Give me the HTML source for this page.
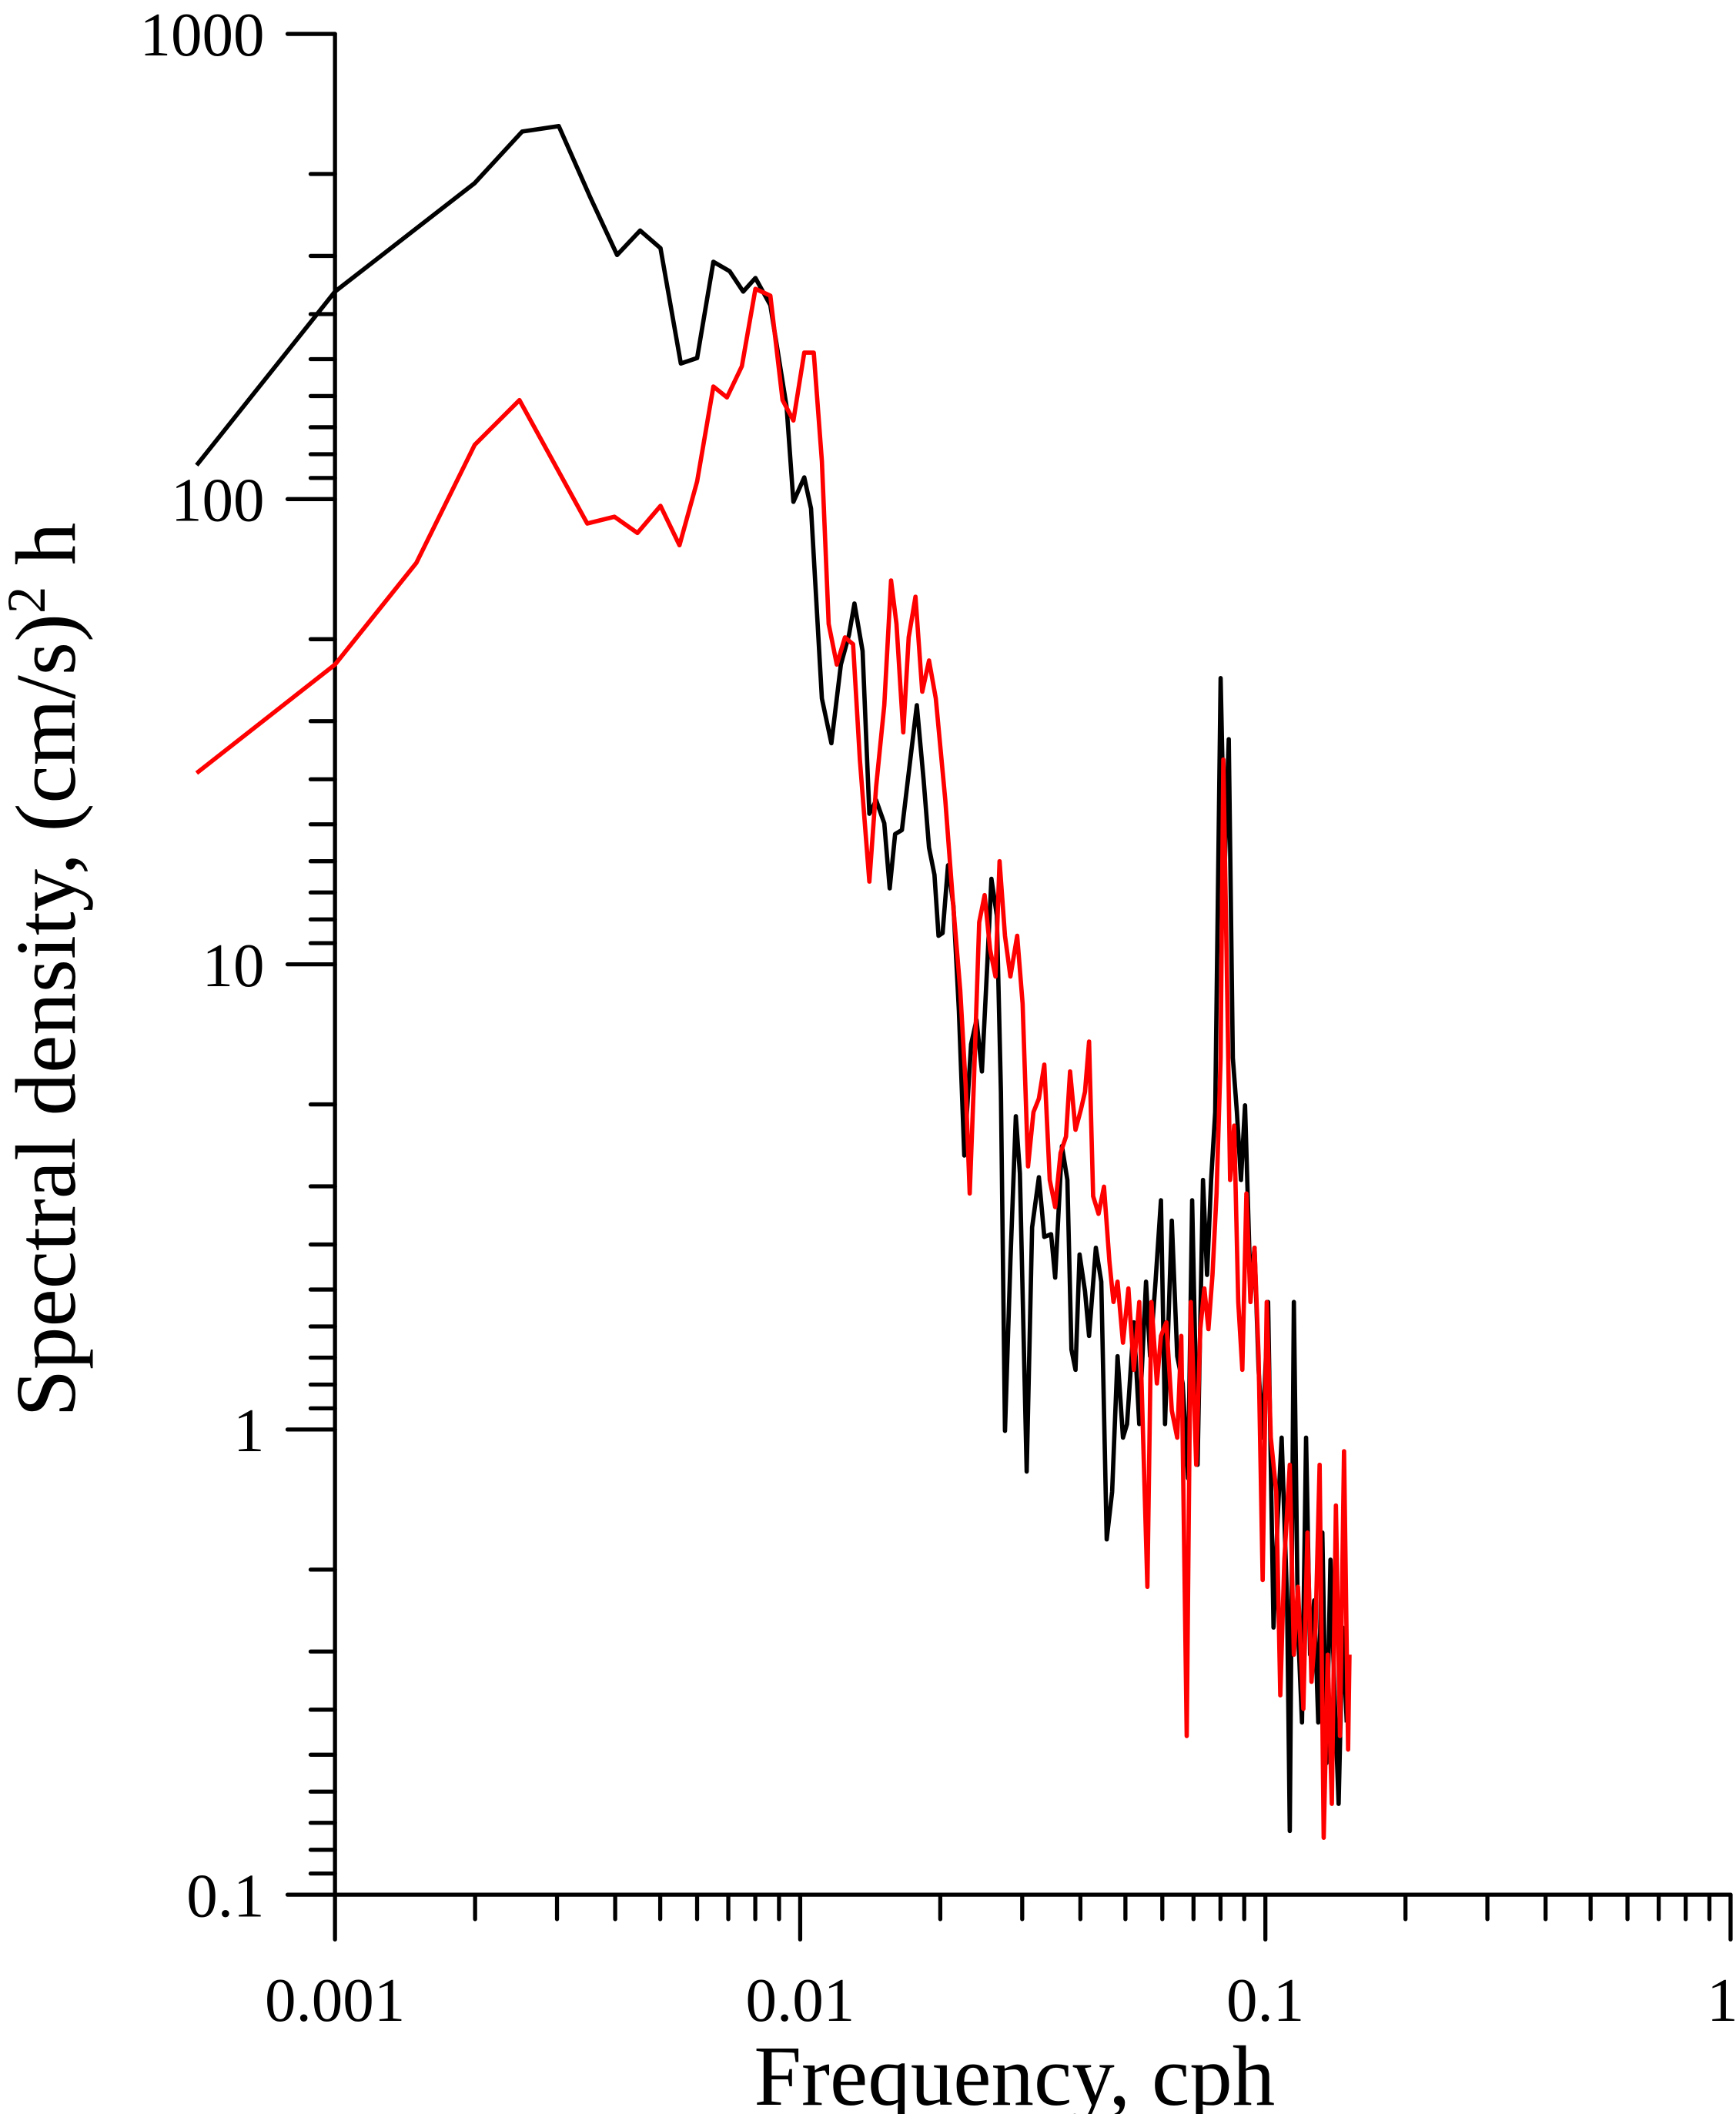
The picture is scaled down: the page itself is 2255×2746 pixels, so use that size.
<!DOCTYPE html>
<html><head><meta charset="utf-8"><style>html,body{margin:0;padding:0;background:#fff}svg{display:block}</style></head><body>
<svg width="2255" height="2746" viewBox="0 0 1280 1558.7" xmlns="http://www.w3.org/2000/svg" font-family="Liberation Serif, serif">
<g stroke="#000" stroke-width="3" fill="none" stroke-linecap="round">
<line x1="247" y1="25" x2="247" y2="1430"/>
<line x1="212" y1="1397" x2="1276" y2="1397"/>
<line x1="1276" y1="1397" x2="1276" y2="1430"/>
<line x1="212" y1="25" x2="247" y2="25"/>
<line x1="212" y1="368" x2="247" y2="368"/>
<line x1="212" y1="711" x2="247" y2="711"/>
<line x1="212" y1="1054" x2="247" y2="1054"/>
<line x1="590" y1="1397" x2="590" y2="1430"/>
<line x1="933" y1="1397" x2="933" y2="1430"/>
<path id="t" d="M247,128.3h-18M247,188.7h-18M247,231.6h-18M247,264.8h-18M247,292h-18M247,315h-18M247,334.9h-18M247,352.4h-18"/>
<use href="#t" y="343"/><use href="#t" y="686"/><use href="#t" y="1029"/>
<path id="u" d="M350.3,1397v18M410.7,1397v18M453.6,1397v18M486.8,1397v18M514,1397v18M537,1397v18M556.9,1397v18M574.4,1397v18"/>
<use href="#u" x="343"/><use href="#u" x="686"/>
</g>
<g font-size="46" text-anchor="end">
<text x="195" y="41">1000</text><text x="195" y="384">100</text><text x="195" y="727">10</text><text x="195" y="1070">1</text><text x="195" y="1413">0.1</text>
</g>
<g font-size="46" text-anchor="middle">
<text x="247" y="1490">0.001</text><text x="590" y="1490">0.01</text><text x="933" y="1490">0.1</text><text x="1270" y="1490">1</text>
</g>
<text x="748" y="1552" font-size="63" text-anchor="middle">Frequency, cph</text>
<text transform="translate(55,715) rotate(-90)" font-size="63" text-anchor="middle">Spectral density, (cm/s)<tspan font-size="40" dy="-22">2</tspan><tspan dy="22"> h</tspan></text>
<polyline fill="none" stroke="#000" stroke-width="3.2" stroke-linejoin="round" points="145,343 247,215 350,135 385,97 412,93 435,145 455,188 472,170 487,183 502,268 514,264 526,193 538,200 548,215 557,205 568,225 580,300 585,370 593,352 598,375 606,515 613,548 620,490 626,468 630,445 636,480 641,600 646,590 652,607 656,655 660,615 665,612 670,570 676,520 681,575 685,625 689,645 692,690 695,688 699,638 703,668 707,745 711,852 716,770 720,752 724,790 728,710 731,648 735,675 738,805 741,1055 745,930 749,823 752,865 757,1085 761,905 766,868 770,912 775,910 778,942 783,845 787,870 790,995 793,1010 796,925 800,952 803,985 808,920 812,945 816,1135 820,1100 824,1000 828,1060 831,1050 836,975 840,1050 845,945 848,1000 852,945 856,885 859,1050 864,900 868,1000 872,1020 876,1090 879,885 883,1080 887,870 890,940 893,870 896,820 900,500 903,640 906,545 909,780 912,820 915,870 918,815 922,950 925,920 928,1010 931,1060 935,960 939,1200 942,1120 945,1060 949,1180 951,1350 954,960 957,1200 960,1270 963,1060 966,1220 969,1180 972,1270 975,1130 978,1300 981,1150 984,1250 987,1330 990,1200 993,1270"/>
<polyline fill="none" stroke="#f00" stroke-width="3.2" stroke-linejoin="round" points="145,570 247,490 307,415 350,328 383,295 433,386 453,381 470,393 487,373 501,402 514,355 526,285 536,293 547,270 557,213 568,218 577,295 585,310 593,260 600,260 606,340 611,460 617,490 623,470 629,475 634,560 641,650 646,580 652,520 657,428 661,460 666,540 670,470 675,440 680,510 685,487 690,515 697,590 700,630 703,670 708,730 712,800 715,880 718,800 722,680 726,660 730,700 734,720 737,635 741,690 745,720 750,690 754,740 758,860 762,820 766,810 770,785 774,870 778,890 782,850 786,838 789,790 793,833 797,818 800,805 803,768 806,882 810,895 814,875 818,930 821,960 824,945 828,990 832,950 836,1010 840,960 843,1065 846,1170 849,960 853,1020 856,985 860,975 864,1040 868,1060 871,985 875,1280 878,960 882,1080 885,980 888,950 891,980 894,940 897,880 900,780 902,560 905,740 907,870 910,830 913,960 916,1010 919,880 922,960 925,920 928,1000 931,1165 934,960 937,1060 941,1100 944,1250 947,1150 951,1080 954,1220 957,1170 961,1260 964,1130 967,1240 970,1200 973,1080 976,1355 979,1220 982,1330 985,1110 988,1280 991,1070 994,1290 995,1220"/>
</svg>
</body></html>
